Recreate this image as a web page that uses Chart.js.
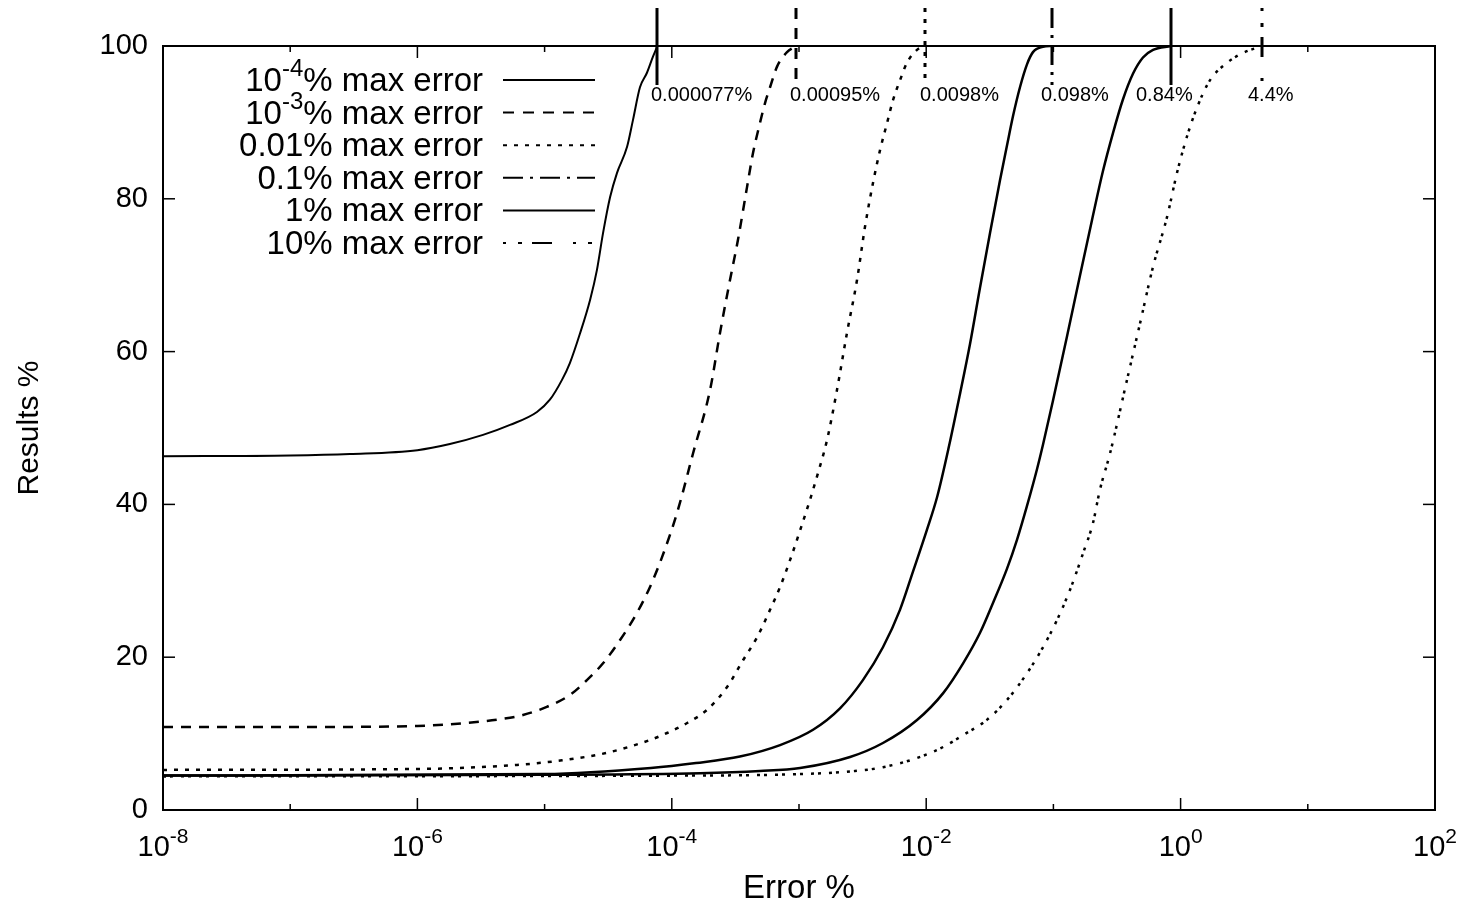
<!DOCTYPE html>
<html>
<head>
<meta charset="utf-8">
<title>Error distribution</title>
<script src="https://cdn.jsdelivr.net/npm/chart.js@4.4.1/dist/chart.umd.min.js"></script>
<style>
  html, body { margin: 0; padding: 0; background: #fff; }
  canvas { display: block; }
</style>
</head>
<body>
<canvas id="errChart" width="1467" height="909"></canvas>
<script>
// Error % (x) vs cumulative results % (y), one pair of arrays per setting
const err1 = [1e-8, 1e-7, 2.95e-7, 1e-6, 1.8e-6, 3.28e-6, 5.35e-6, 8.71e-6, 1.10e-5, 1.37e-5, 1.58e-5, 1.90e-5, 2.28e-5, 2.58e-5, 2.88e-5, 3.27e-5, 3.71e-5, 4.45e-5, 4.95e-5, 5.62e-5, 6.38e-5, 7.11e-5, 7.7e-5];
const res1 = [46.3, 46.4, 46.6, 47.1, 47.9, 49.1, 50.4, 52.1, 53.7, 56.3, 58.5, 62.4, 66.8, 70.7, 75.5, 80.2, 83.4, 86.8, 90.3, 94.6, 96.5, 98.6, 100];

const err2 = [1e-8, 1e-7, 1e-6, 3.1e-6, 4.46e-6, 6.76e-6, 1.04e-5, 1.58e-5, 2.15e-5, 2.88e-5, 3.92e-5, 5.32e-5, 6.74e-5, 8.38e-5, 1.10e-4, 1.47e-4, 2.0e-4, 2.39e-4, 2.87e-4, 3.31e-4, 3.90e-4, 4.35e-4, 4.93e-4, 5.40e-4, 5.92e-4, 6.72e-4, 8.05e-4, 9.5e-4];
const res2 = [10.85, 10.86, 11.0, 11.56, 11.87, 12.43, 13.5, 15.05, 17.0, 19.2, 22.25, 25.8, 29.2, 33.1, 38.9, 46.7, 55.0, 62.4, 69.4, 74.6, 81.5, 86.0, 89.9, 92.5, 94.6, 97.3, 99.2, 100];

const err3 = [1e-8, 1e-6, 6.07e-6, 1.37e-5, 3.04e-5, 6.74e-5, 9.17e-5, 1.32e-4, 1.89e-4, 2.72e-4, 3.63e-4, 4.68e-4, 5.92e-4, 7.10e-4, 8.50e-4, 1.02e-3, 1.22e-3, 1.41e-3, 1.66e-3, 1.99e-3, 2.38e-3, 2.86e-3, 3.30e-3, 3.82e-3, 4.34e-3, 4.92e-3, 5.48e-3, 6.22e-3, 7.06e-3, 8.47e-3, 9.8e-3];
const res3 = [5.25, 5.37, 5.9, 6.5, 7.46, 9.16, 10.08, 11.39, 13.1, 16.1, 19.6, 22.6, 26.2, 29.2, 32.7, 36.6, 40.6, 44.1, 48.4, 55.0, 62.4, 69.4, 76.3, 82.1, 86.4, 89.9, 92.9, 95.5, 97.8, 99.5, 100];

const err4 = [1e-8, 1e-5, 6.85e-5, 1.55e-4, 3.43e-4, 7.10e-4, 1.29e-3, 2.10e-3, 3.18e-3, 4.57e-3, 6.22e-3, 7.87e-3, 1.01e-2, 1.22e-2, 1.51e-2, 1.84e-2, 2.21e-2, 2.65e-2, 3.18e-2, 3.80e-2, 4.32e-2, 4.81e-2, 5.46e-2, 6.20e-2, 6.91e-2, 8.28e-2, 9.8e-2];
const res4 = [4.5, 4.7, 5.5, 6.15, 7.0, 8.5, 10.5, 13.3, 17.0, 21.3, 26.2, 31.2, 36.6, 41.0, 47.6, 54.4, 61.0, 68.4, 75.6, 82.4, 87.0, 90.8, 94.6, 97.6, 99.2, 99.9, 100];

const err5 = [1e-8, 1e-5, 1.67e-4, 4.93e-4, 1.02e-3, 2.52e-3, 4.57e-3, 8.47e-3, 1.36e-2, 1.95e-2, 2.65e-2, 3.35e-2, 4.32e-2, 5.18e-2, 6.20e-2, 7.43e-2, 8.28e-2, 9.93e-2, 0.128, 0.162, 0.201, 0.245, 0.294, 0.352, 0.423, 0.506, 0.607, 0.84];
const res5 = [4.5, 4.6, 4.8, 5.1, 5.5, 6.94, 8.77, 11.78, 15.3, 19.2, 23.2, 27.1, 31.6, 35.4, 39.8, 44.6, 47.8, 53.6, 62.0, 70.0, 77.2, 83.6, 88.6, 93.0, 96.4, 98.5, 99.5, 100];

const err6 = [1e-8, 1e-4, 1.02e-3, 2.75e-3, 4.57e-3, 8.47e-3, 1.36e-2, 1.95e-2, 3.0e-2, 4.32e-2, 6.2e-2, 8.28e-2, 0.107, 0.135, 0.171, 0.205, 0.232, 0.279, 0.379, 0.48, 0.607, 0.782, 0.937, 1.12, 1.35, 1.7, 2.32, 3.1, 4.4];
const res6 = [4.4, 4.5, 4.7, 5.1, 5.6, 6.8, 8.25, 9.8, 11.8, 14.4, 17.9, 21.3, 24.9, 28.8, 33.6, 37.6, 41.9, 46.7, 56.3, 63.7, 71.1, 77.6, 83.4, 88.1, 92.0, 95.5, 97.8, 99.1, 100];

const seriesLabels = ['10^{-4}% max error', '10^{-3}% max error', '0.01% max error', '0.1% max error', '1% max error', '10% max error'];

// where each setting reaches 100%
const reachErr = [0.000077, 0.00095, 0.0098, 0.098, 0.84, 4.4];
const reachText = ['0.000077%', '0.00095%', '0.0098%', '0.098%', '0.84%', '4.4%'];

// axis ticks
const xTickExps = [-8, -7, -6, -5, -4, -3, -2, -1, 0, 1, 2];
const xLabelExps = [-8, -6, -4, -2, 0, 2];
const yTicks = [0, 20, 40, 60, 80, 100];

// styles
const FONT = '"Liberation Sans", Arial, Helvetica, sans-serif';
const curveDash = [[], [10, 8], [4, 7], [], [], [3, 4, 3, 8]];
const keyDash = [[], [11, 9], [4, 7], [20, 7, 3, 7], [], [3, 12, 4, 10, 20, 21]];
const curveWidth = [2, 2.5, 2.5, 2.5, 2.5, 2.5];
const labelDx = [-6, -6, -5, -11, -35, -14];

const errs = [err1, err2, err3, err4, err5, err6];
const ress = [res1, res2, res3, res4, res5, res6];

// split "10^{-4}% ..." into normal / superscript parts
function parts(str) {
    const out = [];
    str.split(/(\^\{[^}]*\})/).forEach(p => {
        if (!p) return;
        if (p.startsWith('^{')) out.push({ t: p.slice(2, -1), sup: true });
        else out.push({ t: p, sup: false });
    });
    return out;
}

function drawRich(ctx, str, x, y, size, align) {
    const list = parts(str);
    const supSize = Math.round(size * 0.72);
    let w = 0;
    list.forEach(p => {
        ctx.font = (p.sup ? supSize : size) + 'px ' + FONT;
        p.w = ctx.measureText(p.t).width;
        w += p.w;
    });
    let cx = align === 'right' ? x - w : align === 'center' ? x - w / 2 : x;
    ctx.textAlign = 'left';
    ctx.textBaseline = 'alphabetic';
    list.forEach(p => {
        ctx.font = (p.sup ? supSize : size) + 'px ' + FONT;
        ctx.fillText(p.t, cx, p.sup ? y - size * 0.45 : y);
        cx += p.w;
    });
}

function seg(ctx, x1, y1, x2, y2) {
    ctx.beginPath();
    ctx.moveTo(x1, y1);
    ctx.lineTo(x2, y2);
    ctx.stroke();
}

// frame, inward ticks, x tick labels
const framePlugin = {
    id: 'frame',
    afterDatasetsDraw(chart) {
        const { ctx, chartArea: a, scales: { x, y } } = chart;
        ctx.save();
        ctx.strokeStyle = '#000';
        ctx.setLineDash([]);
        ctx.lineWidth = 1.5;
        xTickExps.forEach(e => {
            const px = x.getPixelForValue(Math.pow(10, e));
            const len = e % 2 === 0 ? 12 : 6;
            seg(ctx, px, a.bottom, px, a.bottom - len);
            seg(ctx, px, a.top, px, a.top + len);
        });
        yTicks.forEach(v => {
            const py = y.getPixelForValue(v);
            seg(ctx, a.left, py, a.left + 12, py);
            seg(ctx, a.right, py, a.right - 12, py);
        });
        ctx.lineWidth = 2;
        ctx.strokeRect(a.left, a.top, a.right - a.left, a.bottom - a.top);

        ctx.fillStyle = '#000';
        xLabelExps.forEach(e => {
            const px = x.getPixelForValue(Math.pow(10, e));
            drawRich(ctx, '10^{' + e + '}', px, a.bottom + 46, 29, 'center');
        });
        ctx.restore();
    }
};

// key at top left, markers where each series hits 100%
const annotPlugin = {
    id: 'annot',
    afterDraw(chart) {
        const { ctx, scales: { x } } = chart;
        ctx.save();
        ctx.fillStyle = '#000';
        ctx.strokeStyle = '#000';
        seriesLabels.forEach((lab, i) => {
            const ry = 80 + i * 32.6;
            drawRich(ctx, lab, 483, ry + 11, 33, 'right');
            ctx.lineWidth = 2;
            ctx.setLineDash(keyDash[i]);
            seg(ctx, 503, ry, 595, ry);
        });
        reachErr.forEach((v, i) => {
            const px = Math.round(x.getPixelForValue(v));
            ctx.lineWidth = 3;
            ctx.setLineDash(keyDash[i]);
            seg(ctx, px, 8, px, 85);
            ctx.setLineDash([]);
            ctx.font = '20px ' + FONT;
            ctx.textAlign = 'left';
            ctx.textBaseline = 'alphabetic';
            ctx.fillText(reachText[i], px + labelDx[i], 101);
        });
        ctx.restore();
    }
};

const datasets = errs.map((ex, i) => ({
    label: seriesLabels[i],
    data: ex.map((v, j) => ({ x: v, y: ress[i][j] })),
    borderColor: '#000',
    borderWidth: curveWidth[i],
    borderDash: curveDash[i],
    pointRadius: 0,
    fill: false,
    cubicInterpolationMode: 'monotone'
}));

new Chart(document.getElementById('errChart'), {
    type: 'line',
    data: { datasets: datasets },
    options: {
        responsive: false,
        devicePixelRatio: 1,
        animation: false,
        layout: { padding: { top: 46, right: 32, left: 0, bottom: 0 } },
        plugins: { legend: { display: false }, tooltip: { enabled: false } },
        scales: {
            x: {
                type: 'logarithmic',
                min: 1e-8,
                max: 100,
                grid: { display: false },
                border: { display: false },
                ticks: { display: false },
                afterBuildTicks: s => { s.ticks = xTickExps.map(e => ({ value: Math.pow(10, e) })); },
                afterFit: s => { s.height = 99; },
                title: {
                    display: true,
                    text: 'Error %',
                    color: '#000',
                    font: { family: FONT, size: 33 },
                    padding: { top: 0, bottom: 0 }
                }
            },
            y: {
                min: 0,
                max: 100,
                grid: { display: false, drawTicks: false },
                border: { display: false },
                ticks: {
                    stepSize: 20,
                    padding: 15,
                    color: '#000',
                    font: { family: FONT, size: 29 }
                },
                afterFit: s => { s.width = 163; },
                title: {
                    display: true,
                    text: 'Results %',
                    color: '#000',
                    font: { family: FONT, size: 30 },
                    padding: { top: 12, bottom: 0 }
                }
            }
        }
    },
    plugins: [framePlugin, annotPlugin]
});
</script>
</body>
</html>
